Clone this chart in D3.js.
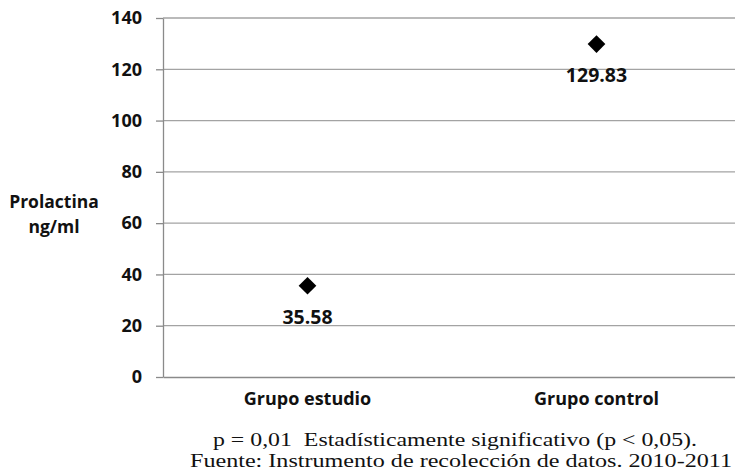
<!DOCTYPE html>
<html>
<head>
<meta charset="utf-8">
<script src="https://cdn.jsdelivr.net/npm/d3@7"></script>
<style>
  body { margin: 0; background: #fff; overflow: hidden; }
  svg { display: block; }
  text { font-family: "Open Sans", "Noto Sans", sans-serif; }
  .note { font-family: "Liberation Serif", "DejaVu Serif", serif; font-size: 19px; fill: #111; white-space: pre; }
</style>
</head>
<body>
<svg id="chart"></svg>
<script>
const groups = ["Grupo estudio", "Grupo control"];
const values = [35.58, 129.83];
const yTicks = [0, 20, 40, 60, 80, 100, 120, 140];
const notes = [
  "p = 0,01  Estadísticamente significativo (p < 0,05).",
  "Fuente: Instrumento de recolección de datos. 2010-2011"
];

const width = 735, height = 472;
const margin = { top: 18, right: -6, bottom: 95, left: 163 };

const svg = d3.select("#chart")
  .attr("width", width)
  .attr("height", height);

const x = d3.scaleBand()
  .domain(groups)
  .range([margin.left, width - margin.right]);

const y = d3.scaleLinear()
  .domain([0, 140])
  .range([height - margin.bottom, margin.top]);

// gridlines
svg.append("g")
  .selectAll("line")
  .data(yTicks.filter(d => d > 0))
  .join("line")
  .attr("x1", margin.left)
  .attr("x2", width)
  .attr("y1", d => y(d))
  .attr("y2", d => y(d))
  .attr("stroke", "#a3a3a3")
  .attr("stroke-width", 1.3);

// y axis
const yAxis = svg.append("g")
  .attr("transform", `translate(${margin.left},0)`)
  .call(d3.axisLeft(y).tickValues(yTicks).tickSize(7).tickPadding(14).tickSizeOuter(0));
yAxis.select(".domain").attr("stroke", "#8a8a8a").attr("stroke-width", 1.3);
yAxis.selectAll(".tick line").attr("stroke", "#8a8a8a").attr("stroke-width", 1.3);
yAxis.selectAll(".tick text")
  .attr("font-size", 18)
  .attr("font-weight", "bold")
  .attr("fill", "#111");

// x axis
const xAxis = svg.append("g")
  .attr("transform", `translate(0,${y(0)})`)
  .call(d3.axisBottom(x).tickSize(0).tickPadding(15).tickSizeOuter(0));
xAxis.select(".domain").attr("stroke", "#8a8a8a").attr("stroke-width", 1.3);
xAxis.selectAll(".tick text")
  .attr("font-size", 18)
  .attr("font-weight", "bold")
  .attr("fill", "#111");

// y title
svg.append("text")
  .attr("x", 54)
  .attr("y", 208)
  .attr("text-anchor", "middle")
  .attr("font-size", 17.5)
  .attr("font-weight", "bold")
  .attr("fill", "#111")
  .selectAll("tspan")
  .data(["Prolactina", "ng/ml"])
  .join("tspan")
  .attr("x", 54)
  .attr("dy", (d, i) => i === 0 ? 0 : 25)
  .text(d => d);

// markers
const pts = groups.map((g, i) => ({ g, v: values[i] }));
svg.append("g")
  .selectAll("path")
  .data(pts)
  .join("path")
  .attr("d", d3.symbol().type(d3.symbolDiamond2).size(200))
  .attr("transform", d => `translate(${x(d.g) + x.bandwidth() / 2},${y(d.v)})`)
  .attr("fill", "#000");

// data labels
svg.append("g")
  .selectAll("text")
  .data(pts)
  .join("text")
  .attr("x", d => x(d.g) + x.bandwidth() / 2)
  .attr("y", d => y(d.v) + 38)
  .attr("text-anchor", "middle")
  .attr("font-size", 19.5)
  .attr("font-weight", "bold")
  .attr("fill", "#111")
  .text(d => d.v.toFixed(2));

// notes (stretched to the widths seen in the reference)
const noteW = [484, 542];
svg.append("g")
  .selectAll("text")
  .data(notes)
  .join("text")
  .attr("class", "note")
  .attr("x", (d, i) => i === 0 ? 213 : 190)
  .attr("y", (d, i) => 446 + i * 21)
  .attr("textLength", (d, i) => noteW[i])
  .attr("lengthAdjust", "spacingAndGlyphs")
  .text(d => d);
</script>
</body>
</html>
